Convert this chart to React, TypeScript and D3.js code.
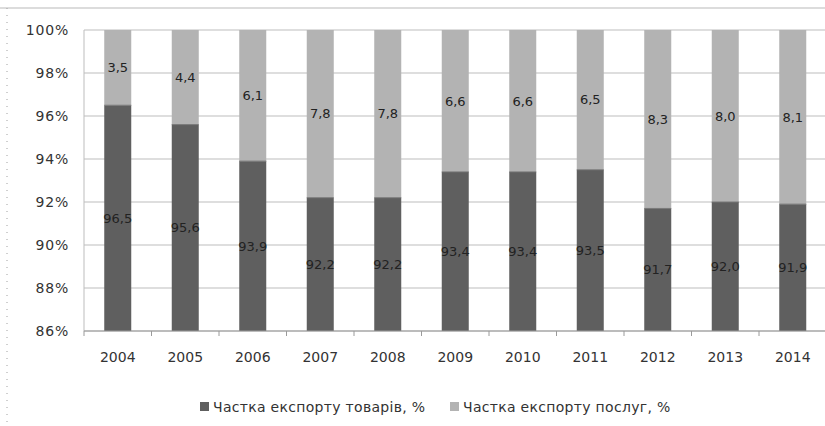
import React from 'react';
import * as d3 from 'd3';

const years = ['2004', '2005', '2006', '2007', '2008', '2009', '2010', '2011', '2012', '2013', '2014'];
const goods = [96.5, 95.6, 93.9, 92.2, 92.2, 93.4, 93.4, 93.5, 91.7, 92.0, 91.9];
const services = [3.5, 4.4, 6.1, 7.8, 7.8, 6.6, 6.6, 6.5, 8.3, 8.0, 8.1];
const yTicks = [86, 88, 90, 92, 94, 96, 98, 100];
const seriesNames = ['Частка експорту товарів, %', 'Частка експорту послуг, %'];

const W = 825;
const H = 426;
const font = 'DejaVu Sans, Verdana, sans-serif';
const darkColor = '#5f5f5f';
const lightColor = '#b3b3b3';

const fmt = (v: number) => v.toFixed(1).replace('.', ',');

export default function App() {
  const x = d3.scaleBand().domain(years).range([84, 826.5]).paddingInner(0.6).paddingOuter(0.3);
  const y = d3.scaleLinear().domain([86, 100]).range([331, 30]);
  const bw = x.bandwidth();
  const step = x.step();
  const yMin = y.domain()[0];

  return (
    <svg width={W} height={H} style={{ position: 'absolute', left: 0, top: 0, background: '#fff' }}>
      {/* frame */}
      <line x1={0} x2={W} y1={8} y2={8} stroke="#d0d0d0" strokeWidth={1.5} />
      <line x1={7} x2={7} y1={8} y2={H} stroke="#a0a0a0" strokeWidth={1} strokeDasharray="1,6" />

      {/* gridlines */}
      {yTicks.map(t => (
        <line key={t} x1={x.range()[0]} x2={W} y1={y(t)} y2={y(t)} stroke="#bdbdbd" strokeWidth={1} />
      ))}
      <line x1={x.range()[0]} x2={x.range()[0]} y1={y(100)} y2={y(86)} stroke="#bdbdbd" strokeWidth={1} />

      {/* y tick labels */}
      {yTicks.map(t => (
        <text key={t} x={69} y={y(t)} dy="0.35em" textAnchor="end" fontFamily={font} fontSize={14} letterSpacing={0.8} fill="#333">
          {t}%
        </text>
      ))}

      {/* bars */}
      {years.map((yr, i) => {
        const x0 = x(yr)!;
        const g = goods[i];
        const s = services[i];
        const top = g + s;
        const goodsMid = (Math.max(yMin, 0) + g) / 2;
        const servMid = g + s / 2;
        return (
          <g key={yr}>
            <rect x={x0} y={y(g)} width={bw} height={y(yMin) - y(g)} fill={darkColor} />
            <rect x={x0} y={y(top)} width={bw} height={y(g) - y(top)} fill={lightColor} />
            <line x1={x0} x2={x0 + bw} y1={y(g)} y2={y(g)} stroke="#777" strokeWidth={1} />
            <text x={x0 + bw / 2} y={y(goodsMid)} dy="0.35em" textAnchor="middle" fontFamily={font} fontSize={13} fill="#222">
              {fmt(g)}
            </text>
            <text x={x0 + bw / 2} y={y(servMid)} dy="0.35em" textAnchor="middle" fontFamily={font} fontSize={13} fill="#222">
              {fmt(s)}
            </text>
          </g>
        );
      })}

      {/* x axis */}
      <line x1={x.range()[0]} x2={W} y1={y(86)} y2={y(86)} stroke="#9a9a9a" strokeWidth={1} />
      {years.map((yr, i) => (
        <line key={'t' + yr} x1={x.range()[0] + i * step} x2={x.range()[0] + i * step} y1={y(86)} y2={y(86) + 5} stroke="#9a9a9a" />
      ))}
      {years.map(yr => (
        <text key={'l' + yr} x={x(yr)! + bw / 2} y={357} dy="0.35em" textAnchor="middle" fontFamily={font} fontSize={14} fill="#333">
          {yr}
        </text>
      ))}

      {/* legend */}
      {seriesNames.map((name, i) => {
        const lx = i === 0 ? 200 : 450;
        return (
          <g key={name}>
            <rect x={lx} y={402} width={9} height={9} fill={i === 0 ? darkColor : lightColor} />
            <text x={lx + 13} y={407} dy="0.35em" fontFamily={font} fontSize={14} letterSpacing={0.3} fill="#333">
              {name}
            </text>
          </g>
        );
      })}
    </svg>
  );
}
